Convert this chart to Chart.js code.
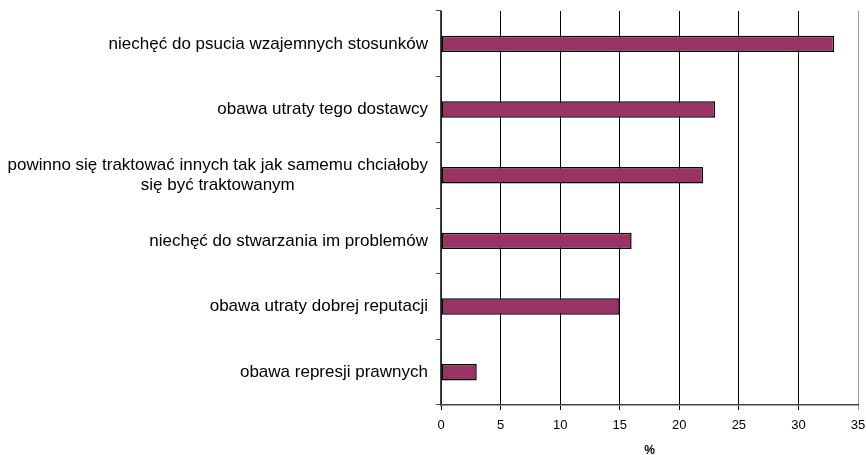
<!DOCTYPE html>
<html>
<head>
<meta charset="utf-8">
<script src="https://cdn.jsdelivr.net/npm/chart.js@4"></script>
<style>
  body { margin: 0; background: #fff; }
  #wrap { width: 866px; height: 455px; }
</style>
</head>
<body>
<div id="wrap"><canvas id="wykres"></canvas></div>
<script>
const kategorie = [
  'niechęć do psucia wzajemnych stosunków',
  'obawa utraty tego dostawcy',
  ['powinno się traktować innych tak jak samemu chciałoby', 'się być traktowanym'],
  'niechęć do stwarzania im problemów',
  'obawa utraty dobrej reputacji',
  'obawa represji prawnych'
];
const wartosci = [33, 23, 22, 16, 15, 3];
const osX = { min: 0, max: 35, krok: 5 };

const czcionka = 'Liberation Sans, Arial, sans-serif';

// etykiety kategorii rysowane recznie: wiersze wyśrodkowane wzgledem siebie,
// cały blok wyrównany do prawej jak w Excelu
const etykietyY = {
  id: 'etykietyY',
  afterDraw(chart) {
    const skala = chart.scales.y;
    const g = chart.ctx;
    const prawa = skala.right - 13;
    const wys = 20;
    g.save();
    g.font = '17px ' + czcionka;
    g.fillStyle = '#000';
    g.textBaseline = 'middle';
    g.textAlign = 'center';
    kategorie.forEach((et, i) => {
      const linie = Array.isArray(et) ? et : [et];
      const szer = Math.max(...linie.map(l => g.measureText(l).width));
      const srodekX = prawa - szer / 2;
      const y0 = skala.getPixelForTick(i) - (linie.length - 1) * wys / 2;
      linie.forEach((l, j) => g.fillText(l, srodekX, y0 + j * wys));
    });
    g.restore();
  }
};

const ctx = document.getElementById('wykres');

new Chart(ctx, {
  type: 'bar',
  data: {
    labels: kategorie,
    datasets: [{
      label: '%',
      data: wartosci,
      backgroundColor: '#993366',
      borderColor: '#000',
      borderWidth: 1.5,
      borderSkipped: false,
      categoryPercentage: 1,
      barPercentage: 0.25
    }]
  },
  options: {
    indexAxis: 'y',
    responsive: true,
    maintainAspectRatio: false,
    animation: false,
    layout: { padding: { top: 11, right: 0, bottom: -3, left: 0 } },
    plugins: {
      legend: { display: false },
      tooltip: { enabled: false }
    },
    scales: {
      x: {
        min: osX.min,
        max: osX.max,
        afterFit: (skala) => { skala.paddingRight = 8; },
        ticks: {
          stepSize: osX.krok,
          color: '#000',
          font: { family: czcionka, size: 13 },
          padding: 8
        },
        grid: {
          color: (c) => c.index === 7 ? '#999' : '#000',
          lineWidth: 1,
          tickLength: 5
        },
        border: { color: '#444', width: 1.5 },
        title: {
          display: true,
          text: '%',
          color: '#000',
          font: { family: czcionka, size: 12, weight: 'bold' },
          padding: { top: 2, bottom: 0 }
        }
      },
      y: {
        afterFit: (skala) => { skala.width = 441; },
        ticks: { display: false },
        grid: {
          offset: true,
          drawOnChartArea: false,
          drawTicks: true,
          tickLength: 5,
          color: '#444'
        },
        border: { color: '#444', width: 1.5 }
      }
    }
  },
  plugins: [etykietyY]
});
</script>
</body>
</html>
